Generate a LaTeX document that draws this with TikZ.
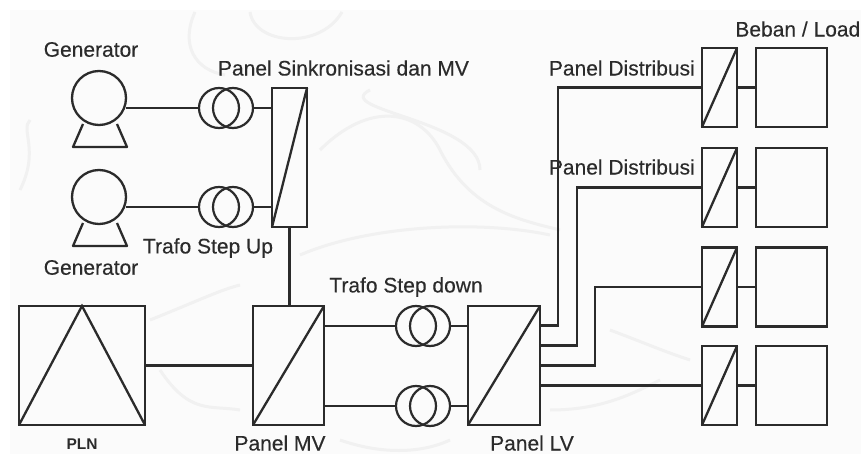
\documentclass[tikz,border=0pt]{standalone}
\usepackage{fontspec}
\setmainfont{Liberation Sans}
\newfontfamily\tagfont[FakeBold=0.25]{Liberation Sans}
\usepackage{xcolor}
\usetikzlibrary{positioning,calc}
\definecolor{cInk}{HTML}{2b2b2b}
\definecolor{cPaper}{HTML}{fbfbfb}
\definecolor{cMark}{HTML}{f1f1f1}
\tikzset{
  wire/.style={line width=2.3pt,cInk},
  panel/.style={rectangle,draw=cInk,line width=2.3pt,inner sep=0pt,outer sep=0pt},
  coil/.style={circle,draw=cInk,line width=2.2pt,inner sep=0pt,outer sep=0pt,minimum size=40pt},
  rotor/.style={circle,draw=cInk,line width=2.3pt,inner sep=0pt,outer sep=0pt,minimum size=54pt},
  tag/.style={font=\fontsize{21}{24}\selectfont\tagfont,text=cInk,inner sep=0pt},
  wmark/.style={line width=3pt,cMark},
}
% one transformer: two coils side by side
\newcommand{\trafo}[2]{%
  \node[coil] (#1a) at (#2) {};
  \node[coil,right=-26pt of #1a] (#1b) {};
}
\begin{document}
\begin{tikzpicture}[x=1pt,y=-1pt,node distance=10pt]
  \useasboundingbox (0,0) rectangle (861,454);
  % paper and watermark
  \fill[cPaper] (10,10) rectangle (861,454);
  \draw[wmark] (250,12) .. controls (255,45) and (320,50) .. (342,12);
  \draw[wmark] (195,12) .. controls (180,45) and (195,70) .. (225,75);
  \draw[wmark] (370,90) .. controls (330,110) and (480,120) .. (480,170);
  \draw[wmark] (320,150) .. controls (370,100) and (420,110) .. (440,150) .. controls (470,210) and (520,220) .. (560,230);
  \draw[wmark] (300,255) .. controls (370,225) and (480,220) .. (550,235);
  \draw[wmark] (20,190) .. controls (40,150) and (20,130) .. (30,120);
  \draw[wmark] (150,320) .. controls (200,300) and (220,290) .. (240,285);
  \draw[wmark] (160,370) .. controls (190,415) and (210,405) .. (240,410);
  \draw[wmark] (610,330) .. controls (650,345) and (660,350) .. (690,360);
  \draw[wmark] (550,410) .. controls (600,410) and (630,395) .. (660,380);
  \draw[wmark] (340,440) .. controls (380,454) and (420,454) .. (450,440);
  % main panels
  \node[panel,minimum width=126pt,minimum height=119pt] (pln) at (82,365.5) {};
  \node[panel,minimum width=71pt,minimum height=119pt,right=108pt of pln] (pmv) {};
  \node[panel,minimum width=72pt,minimum height=119pt,right=144pt of pmv] (plv) {};
  \node[panel,minimum width=35pt,minimum height=139pt] (sync) at (289.5,157.5) {};
  \draw[wire] (pln.south west) -- ($(pln.north west)!0.5!(pln.north east)$) -- (pln.south east);
  \foreach \p in {pmv,plv,sync}
    \draw[wire] (\p.south west) -- (\p.north east);
  % distribution panels and loads
  \foreach \i/\yy in {1/87.5,2/187.5,3/287,4/385.5}{
    \node[panel,minimum width=35pt,minimum height=79pt] (pd\i) at (719.5,\yy) {};
    \node[panel,minimum width=71pt,minimum height=79pt,right=19pt of pd\i] (ld\i) {};
    \draw[wire] (pd\i.south west) -- (pd\i.north east);
    \draw[wire] (pd\i.east) -- (ld\i.west);
  }
  % generators
  \node[rotor] (gen1) at (99,98) {};
  \node[rotor] (gen2) at (99,197) {};
  \foreach \g in {gen1,gen2}
    \draw[wire,line join=round] ($(\g)+(-16,26)$) -- ++(-10,23) -- ++(54,0) -- ++(-10,-23);
  % transformers
  \trafo{tup}{219,108}
  \trafo{tlo}{219,207}
  \trafo{tmv}{416,326}
  \trafo{tlv}{416,406}
  \draw[wire] (gen1.east |- tupa.west) -- (tupa.west);
  \draw[wire] (tupb.east) -- (tupb.east -| sync.west);
  \draw[wire] (gen2.east |- tloa.west) -- (tloa.west);
  \draw[wire] (tlob.east) -- (tlob.east -| sync.west);
  \draw[wire] (sync.south) -- (sync.south |- pmv.north);
  \draw[wire] (pln.east) -- (pmv.west);
  \draw[wire] (pmv.east |- tmva.west) -- (tmva.west);
  \draw[wire] (tmvb.east) -- (tmvb.east -| plv.west);
  \draw[wire] (pmv.east |- tlva.west) -- (tlva.west);
  \draw[wire] (tlvb.east) -- (tlvb.east -| plv.west);
  % outgoing feeders
  \coordinate (out1) at ($(plv.east)+(0,-40)$);
  \coordinate (out2) at ($(plv.east)+(0,-20)$);
  \coordinate (out3) at (plv.east);
  \coordinate (out4) at ($(plv.east)+(0,20)$);
  \draw[wire] (out1) -- ++(18,0) |- (pd1.west);
  \draw[wire] (out2) -- ++(37,0) |- (pd2.west);
  \draw[wire] (out3) -- ++(55,0) |- (pd3.west);
  \draw[wire] (out4) -- (out4 -| pd4.west);
  % labels
  \node[tag] (lgen1) at (91,49.5) {Generator};
  \node[tag] (lgen2) at (91,267.5) {Generator};
  \node[tag] (lsync) at (343.5,68) {Panel Sinkronisasi dan MV};
  \node[tag] (lup) at (208,248) {Trafo Step Up};
  \node[tag] (ldown) at (406,287) {Trafo Step down};
  \node[tag,anchor=east] (ldist1) at (695,68) {Panel Distribusi};
  \node[tag,anchor=east] (ldist2) at (695,167) {Panel Distribusi};
  \node[tag,anchor=east] (lload) at (860.5,29) {Beban / Load};
  \node[tag,font=\fontsize{15.5}{18}\selectfont\normalfont\bfseries] (lpln) at (82,444) {PLN};
  \node[tag] (lmv) at (280,443) {Panel MV};
  \node[tag] (llv) at (532,443) {Panel LV};
\end{tikzpicture}
\end{document}
